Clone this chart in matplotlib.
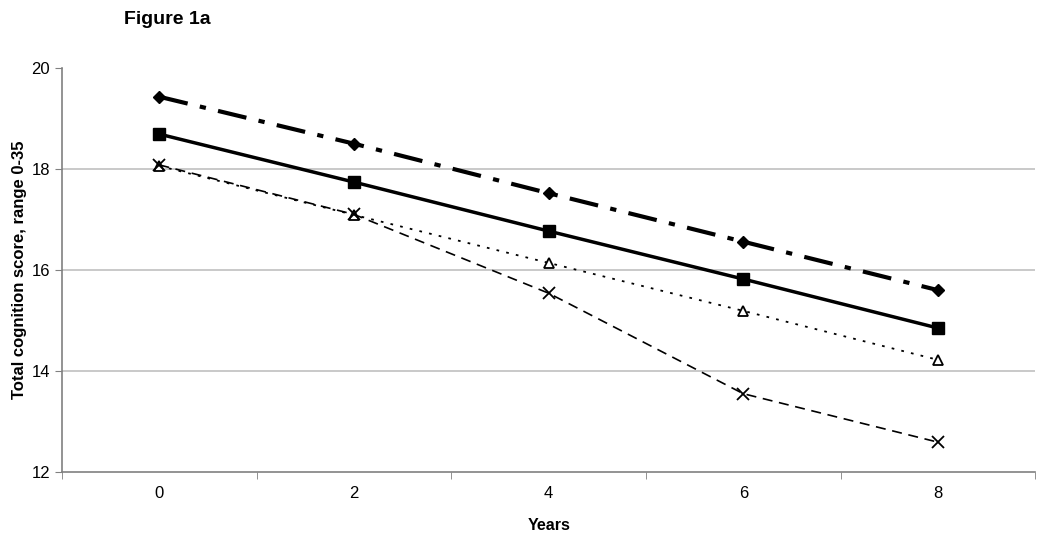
import matplotlib
matplotlib.use('Agg')
import matplotlib.pyplot as plt

plt.rcParams['font.family'] = ['Liberation Sans', 'DejaVu Sans']

years = [0, 2, 4, 6, 8]
diamond = [19.43, 18.50, 17.52, 16.56, 15.60]
square = [18.69, 17.74, 16.77, 15.82, 14.85]
triangle = [18.06, 17.09, 16.14, 15.19, 14.22]
cross = [18.08, 17.10, 15.54, 13.55, 12.59]

fig = plt.figure(figsize=(10.5, 5.35), dpi=100)
ax = fig.add_axes([0.059, 0.1178, 0.927, 0.7552])

ax.plot(years, diamond, color='black', lw=3, dashes=(7, 3, 1.5, 3),
        marker='D', ms=6, zorder=3)
ax.plot(years, square, color='black', lw=2.5, ls='-',
        marker='s', ms=8, zorder=3)
ax.plot(years, triangle, color='black', lw=1.3, dashes=(1.5, 4),
        marker='^', ms=7, mfc='white', mec='black', mew=1.3, zorder=3)
ax.plot(years, cross, color='black', lw=1.2, dashes=(6, 4),
        marker='x', ms=8, mew=1.3, zorder=3)

ax.set_xlim(-1, 9)
ax.set_ylim(12, 20)
ax.set_xticks(years)
ax.set_xticks([-1, 1, 3, 5, 7, 9], minor=True)
ax.set_yticks([12, 14, 16, 18, 20])
ax.tick_params(axis='x', which='major', length=0, labelsize=12, pad=10)
ax.tick_params(axis='x', which='minor', length=5, color='#808080', direction='out')
ax.tick_params(axis='y', length=5, color='#808080', labelsize=12, direction='out')

for g in [14, 16, 18]:
    ax.axhline(g, color='#c0c0c0', lw=1.2, zorder=1)

for s in ['top', 'right']:
    ax.spines[s].set_visible(False)
for s in ['left', 'bottom']:
    ax.spines[s].set_color('#808080')
    ax.spines[s].set_linewidth(1.2)

ax.set_xlabel('Years', fontsize=11.5, fontweight='bold', labelpad=12)
ax.set_ylabel('Total cognition score, range 0-35', fontsize=12,
              fontweight='bold', labelpad=3)

fig.text(0.159, 0.964, 'Figure 1a', fontsize=14, fontweight='bold',
         ha='center', va='center')

fig.savefig('out.png', dpi=100)
